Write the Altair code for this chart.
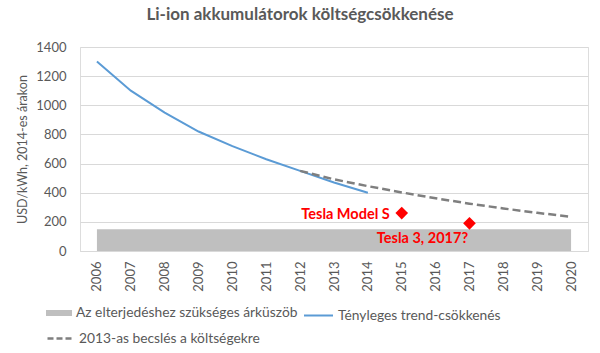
import altair as alt
import pandas as pd

years = [str(y) for y in range(2006, 2021)]
threshold = [150] * len(years)

actual_years = [str(y) for y in range(2006, 2015)]
actual_vals = [1300, 1100, 950, 820, 720, 630, 550, 470, 400]

est_years = [str(y) for y in range(2012, 2021)]
est_vals = [550, 492, 445, 402, 362, 325, 292, 262, 235]

tesla_names = ["Tesla Model S", "Tesla 3, 2017?"]
tesla_years = ["2015", "2017"]
tesla_vals = [260, 190]

s_area = "Az elterjedéshez szükséges árküszöb"
s_act = "Tényleges trend-csökkenés"
s_est = "2013-as becslés a költségekre"

FONT = "Lato"
TXT = "#595959"

df_area = pd.DataFrame({"year": years, "v": threshold, "s": s_area})
df_act = pd.DataFrame({"year": actual_years, "v": actual_vals, "s": s_act})
df_est = pd.DataFrame({"year": est_years, "v": est_vals, "s": s_est})
df_t = pd.DataFrame({"year": tesla_years, "v": tesla_vals, "name": tesla_names})

xs = alt.Scale(type="point", padding=0.5, domain=years)
ys = alt.Scale(domain=[0, 1400])

xax = alt.Axis(title=None, labelAngle=-90, ticks=False, domainColor="#D9D9D9",
               labelPadding=10, labelColor=TXT, labelFontSize=13, labelFont=FONT,
               grid=False, labelOverlap=False)
yax = alt.Axis(title="USD/kWh, 2014-es árakon", values=list(range(0, 1401, 200)),
               format="d", labelOverlap=False,
               domain=False, ticks=False, gridColor="#D9D9D9", labelPadding=14,
               labelColor=TXT, labelFontSize=13, labelFont=FONT,
               titleColor=TXT, titleFontSize=12.5, titleFont=FONT,
               titleFontWeight="normal", titlePadding=6)

X = alt.X("year:O", scale=xs, axis=xax)
Y = alt.Y("v:Q", scale=ys, axis=yax)

leg_common = dict(orient="none", title=None, labelFont=FONT, labelFontSize=13.8,
                  labelColor=TXT, labelOffset=4, labelLimit=400)

area = alt.Chart(df_area).mark_area(opacity=1).encode(
    x=X, y=Y,
    color=alt.Color("s:N", scale=alt.Scale(domain=[s_area], range=["#BFBFBF"]),
                    legend=alt.Legend(legendX=-34, legendY=253, symbolSize=676,
                                      symbolType="M-1,-0.23H1V0.23H-1Z",
                                      symbolStrokeWidth=0, **leg_common)),
)

act = alt.Chart(df_act).mark_line(strokeWidth=2).encode(
    x=X, y=Y,
    color=alt.Color("s:N", scale=alt.Scale(domain=[s_act], range=["#5B9BD5"]),
                    legend=alt.Legend(legendX=223, legendY=253, symbolType="stroke",
                                      symbolSize=841, symbolStrokeWidth=2, **leg_common)),
)

est = alt.Chart(df_est).mark_line(strokeWidth=2.5, strokeDash=[8, 4]).encode(
    x=X, y=Y,
    color=alt.Color("s:N", scale=alt.Scale(domain=[s_est], range=["#7F7F7F"]),
                    legend=alt.Legend(legendX=-34, legendY=277, symbolType="stroke",
                                      symbolSize=676, symbolStrokeWidth=2.5,
                                      symbolDash=[6, 3], **leg_common)),
)

pts = alt.Chart(df_t).mark_point(shape="diamond", filled=True, size=160,
                                 color="#FF0000", opacity=1).encode(x=X, y=Y)

lab1 = alt.Chart(df_t).transform_filter(alt.datum.name == tesla_names[0]).mark_text(
    align="right", baseline="middle", dx=-12, dy=2, font=FONT, fontSize=14.5,
    fontWeight="bold", color="#FF0000").encode(x=X, y=Y, text="name:N")

lab2 = alt.Chart(df_t).transform_filter(alt.datum.name == tesla_names[1]).mark_text(
    align="center", baseline="middle", dx=-47, dy=16, font=FONT, fontSize=14.5,
    fontWeight="bold", color="#FF0000").encode(x=X, y=Y, text="name:N")

chart = alt.layer(area, act, est, pts, lab1, lab2).resolve_scale(
    color="independent"
).properties(
    width=508, height=204,
    title=alt.Title("Li-ion akkumulátorok költségcsökkenése", font=FONT, fontSize=17,
                    fontWeight="bold", color=TXT, anchor="middle", dx=-34, offset=17),
    autosize=alt.AutoSizeParams(type="none"),
    padding={"left": 80, "top": 47, "right": 12, "bottom": 102},
).configure_view(stroke=None).configure(background="white")

chart.save("out.html", embed_options={"renderer": "svg", "actions": False})
